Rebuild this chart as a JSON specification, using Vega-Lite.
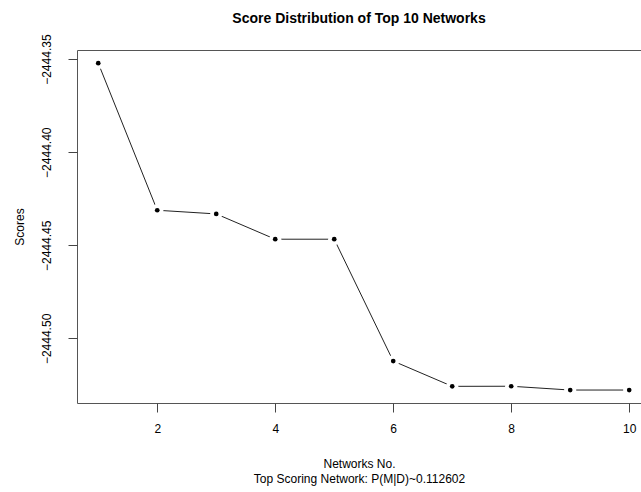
{
  "$schema": "https://vega.github.io/schema/vega-lite/v6.json",
  "autosize": {"type": "none"},
  "padding": {"left": 77, "top": 50, "right": 0, "bottom": 89},
  "width": 564,
  "height": 353,
  "background": "white",
  "config": {
    "font": "Liberation Sans",
    "view": {"stroke": "#555", "strokeWidth": 1},
    "axis": {"grid": false, "domain": false, "tickColor": "#444", "tickSize": 9, "labelFont": "Liberation Sans", "labelFontSize": 12, "labelColor": "#000", "titleFont": "Liberation Sans", "titleFontSize": 12, "titleFontWeight": "normal", "titleColor": "#000"}
  },
  "title": {"text": "Score Distribution of Top 10 Networks", "font": "Liberation Sans", "fontSize": 14, "fontWeight": "bold", "color": "#000", "anchor": "middle", "offset": 8},
  "data": {"values": [
    {"network": 1, "score": -2444.35215},
    {"network": 2, "score": -2444.43117},
    {"network": 3, "score": -2444.43315},
    {"network": 4, "score": -2444.44673},
    {"network": 5, "score": -2444.44673},
    {"network": 6, "score": -2444.51218},
    {"network": 7, "score": -2444.52575},
    {"network": 8, "score": -2444.5257},
    {"network": 9, "score": -2444.52774},
    {"network": 10, "score": -2444.52774}
  ]},
  "encoding": {
    "x": {"field": "network", "type": "quantitative", "scale": {"domain": [0.64, 10.2], "nice": false, "zero": false},
      "axis": {"values": [2, 4, 6, 8, 10], "format": "d", "labelPadding": 11, "title": ["Networks No.", "Top Scoring Network: P(M|D)~0.112602"], "titlePadding": 24, "titleLineHeight": 15}},
    "y": {"field": "score", "type": "quantitative", "scale": {"domain": [-2444.5347, -2444.3451], "nice": false, "zero": false},
      "axis": {"values": [-2444.35, -2444.40, -2444.45, -2444.50], "format": ".2f", "labelAngle": 270, "labelPadding": 15, "title": "Scores", "titlePadding": 14}}
  },
  "layer": [
    {"mark": {"type": "line", "color": "#222", "strokeWidth": 1}},
    {"mark": {"type": "point", "filled": true, "color": "white", "opacity": 1, "size": 150}},
    {"mark": {"type": "point", "filled": true, "color": "#000", "opacity": 1, "size": 22}}
  ]
}
